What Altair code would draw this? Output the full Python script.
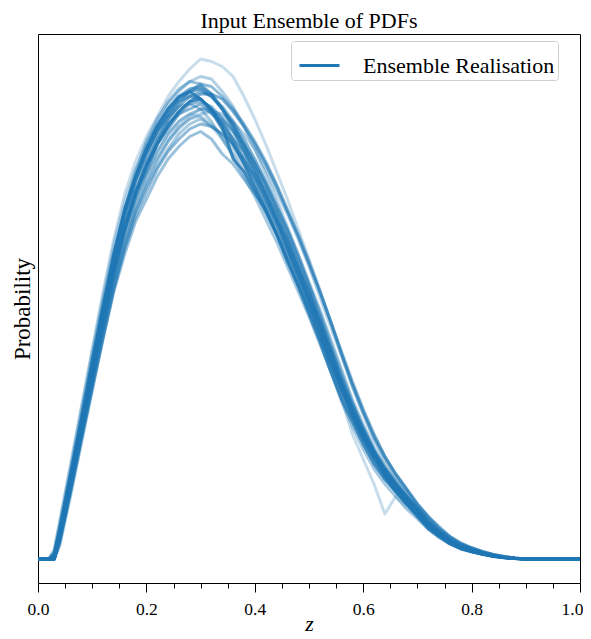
import altair as alt
import pandas as pd

# grid of redshift values shared by all realisations
z = [0.0, 0.02, 0.03, 0.04, 0.06, 0.08, 0.10, 0.12, 0.14, 0.16, 0.18, 0.20,
     0.22, 0.24, 0.26, 0.28, 0.30, 0.32, 0.34, 0.36, 0.38, 0.40, 0.42, 0.44,
     0.46, 0.48, 0.50, 0.52, 0.54, 0.56, 0.58, 0.60, 0.62, 0.64, 0.66, 0.68,
     0.70, 0.72, 0.74, 0.76, 0.78, 0.80, 0.82, 0.84, 0.86, 0.88, 0.90, 1.0]

# ensemble realisations (probability values)
r00 = [0,0,0.03,0.15, 0.38,0.61,0.84,1.07,1.28,1.46, 1.59,1.69,1.77,1.85,1.91,1.96, 2.00,1.99,1.97,1.93,1.85,1.76, 1.66,1.55,1.44,1.32,1.20,1.08, 0.95,0.82,0.69,0.58,0.48,0.39, 0.32,0.26,0.21,0.16,0.12,0.08, 0.06,0.04,0.025,0.015,0.008,0.003, 0,0]
r01 = [0,0,0.02,0.12, 0.34,0.56,0.79,1.01,1.22,1.40, 1.53,1.64,1.73,1.80,1.85,1.87, 1.84,1.79,1.72,1.66,1.58,1.49, 1.40,1.30,1.19,1.09,0.98,0.87, 0.75,0.64,0.55,0.46,0.38,0.32, 0.27,0.22,0.17,0.12,0.09,0.06, 0.04,0.03,0.02,0.01,0.005,0.002, 0,0]
r02 = [0,0,0,0.08, 0.28,0.49,0.70,0.91,1.10,1.26, 1.39,1.49,1.57,1.64,1.70,1.74, 1.76,1.73,1.70,1.65,1.59,1.52, 1.44,1.35,1.26,1.16,1.06,0.96, 0.84,0.72,0.61,0.52,0.43,0.36, 0.30,0.25,0.20,0.15,0.11,0.08, 0.055,0.04,0.025,0.015,0.008,0.003, 0,0]
r03 = [0,0,0,0.07, 0.27,0.48,0.68,0.88,1.07,1.22, 1.35,1.44,1.53,1.60,1.65,1.69, 1.71,1.68,1.62,1.58,1.52,1.46, 1.40,1.31,1.23,1.13,1.04,0.93, 0.81,0.69,0.58,0.49,0.41,0.34, 0.28,0.23,0.18,0.13,0.09,0.065, 0.045,0.03,0.02,0.012,0.006,0.002, 0,0]
r04 = [0,0,0,0.09, 0.30,0.52,0.74,0.95,1.15,1.33, 1.47,1.58,1.68,1.76,1.82,1.87, 1.90,1.89,1.85,1.80,1.74,1.67, 1.59,1.50,1.40,1.30,1.19,1.07, 0.95,0.83,0.71,0.60,0.50,0.41, 0.34,0.28,0.22,0.17,0.12,0.09, 0.06,0.045,0.03,0.018,0.01,0.004, 0,0]
r05 = [0,0,0.03,0.13, 0.35,0.58,0.81,1.03,1.23,1.40, 1.53,1.63,1.71,1.77,1.81,1.82, 1.80,1.75,1.68,1.61,1.53,1.45, 1.36,1.27,1.17,1.07,0.97,0.86, 0.75,0.63,0.53,0.44,0.36,0.30, 0.25,0.20,0.16,0.12,0.085,0.06, 0.04,0.028,0.018,0.01,0.005,0.002, 0,0]
r06 = [0,0,0,0.10, 0.32,0.54,0.76,0.98,1.19,1.37, 1.51,1.62,1.71,1.78,1.84,1.87, 1.88,1.85,1.80,1.74,1.66,1.58, 1.49,1.39,1.29,1.18,1.07,0.95, 0.83,0.71,0.60,0.51,0.43,0.36, 0.30,0.25,0.20,0.15,0.11,0.075, 0.05,0.035,0.022,0.013,0.007,0.003, 0,0]
r07 = [0,0,0,0.05, 0.25,0.46,0.67,0.88,1.08,1.25, 1.39,1.50,1.59,1.67,1.73,1.77, 1.80,1.80,1.77,1.72,1.66,1.59, 1.51,1.42,1.32,1.22,1.11,1.00, 0.88,0.76,0.64,0.54,0.45,0.37, 0.31,0.26,0.21,0.16,0.12,0.085, 0.06,0.04,0.026,0.016,0.008,0.003, 0,0]
r08 = [0,0,0,0.09, 0.30,0.52,0.74,0.96,1.16,1.33, 1.46,1.57,1.66,1.73,1.79,1.83, 1.84,1.80,1.73,1.60,1.55,1.47, 1.39,1.30,1.20,1.10,1.00,0.89, 0.78,0.67,0.57,0.48,0.40,0.33, 0.27,0.22,0.18,0.13,0.095,0.065, 0.045,0.03,0.02,0.012,0.006,0.002, 0,0]
r09 = [0,0,0,0.10, 0.31,0.53,0.76,0.98,1.19,1.38, 1.53,1.65,1.74,1.82,1.87,1.91, 1.93,1.92,1.87,1.81,1.73,1.64, 1.54,1.44,1.33,1.22,1.10,0.98, 0.85,0.73,0.62,0.52,0.43,0.36, 0.30,0.24,0.19,0.14,0.10,0.07, 0.05,0.035,0.022,0.013,0.007,0.003, 0,0]
r10 = [0,0,0,0.09, 0.30,0.51,0.73,0.94,1.14,1.31, 1.44,1.54,1.63,1.70,1.75,1.78, 1.77,1.73,1.68,1.62,1.55,1.47, 1.39,1.30,1.21,1.11,1.01,0.90, 0.78,0.64,0.50,0.40,0.30,0.18, 0.25,0.21,0.17,0.13,0.10,0.07, 0.05,0.035,0.022,0.013,0.007,0.003, 0,0]
r11 = [0,0,0,0.08, 0.29,0.50,0.72,0.93,1.13,1.31, 1.45,1.57,1.66,1.74,1.79,1.83, 1.86,1.86,1.84,1.79,1.73,1.66, 1.58,1.49,1.39,1.29,1.18,1.07, 0.95,0.82,0.70,0.59,0.49,0.41, 0.34,0.28,0.22,0.17,0.13,0.09, 0.065,0.045,0.03,0.018,0.01,0.004, 0,0]
r12 = [0,0,0,0.07, 0.27,0.48,0.69,0.89,1.08,1.24, 1.37,1.47,1.56,1.63,1.68,1.72, 1.74,1.73,1.70,1.66,1.60,1.53, 1.45,1.36,1.26,1.16,1.05,0.94, 0.82,0.70,0.59,0.50,0.42,0.35, 0.29,0.24,0.19,0.14,0.10,0.07, 0.05,0.035,0.022,0.013,0.007,0.003, 0,0]
r13 = [0,0,0.04,0.15, 0.37,0.60,0.83,1.05,1.26,1.43, 1.56,1.66,1.74,1.80,1.84,1.86, 1.84,1.80,1.74,1.67,1.59,1.50, 1.41,1.31,1.21,1.11,1.00,0.89, 0.77,0.66,0.56,0.47,0.39,0.32, 0.27,0.22,0.17,0.13,0.09,0.06, 0.045,0.03,0.02,0.011,0.005,0.002, 0,0]
r14 = [0,0,0,0.09, 0.31,0.52,0.75,0.96,1.16,1.32, 1.47,1.55,1.66,1.72,1.78,1.80, 1.82,1.78,1.75,1.68,1.63,1.54, 1.47,1.36,1.28,1.16,1.07,0.94, 0.84,0.70,0.61,0.50,0.43,0.35, 0.30,0.24,0.20,0.14,0.11,0.07, 0.05,0.035,0.02,0.013,0.006,0.003, 0,0]
r15 = [0,0,0.01,0.11, 0.33,0.55,0.78,1.00,1.21,1.39, 1.53,1.64,1.73,1.80,1.85,1.88, 1.89,1.86,1.80,1.73,1.65,1.56, 1.46,1.36,1.25,1.14,1.03,0.91, 0.79,0.68,0.58,0.49,0.41,0.34, 0.28,0.23,0.18,0.13,0.095,0.065, 0.045,0.03,0.02,0.012,0.006,0.002, 0,0]
r16 = [0,0,0,0.06, 0.26,0.47,0.68,0.89,1.09,1.26, 1.40,1.51,1.60,1.67,1.72,1.76, 1.78,1.79,1.78,1.75,1.70,1.64, 1.56,1.47,1.38,1.28,1.17,1.05, 0.93,0.81,0.69,0.58,0.48,0.40, 0.33,0.27,0.21,0.16,0.12,0.085, 0.06,0.042,0.028,0.017,0.009,0.004, 0,0]
r17 = [0,0,0.02,0.12, 0.34,0.56,0.79,1.01,1.22,1.40, 1.55,1.67,1.76,1.83,1.88,1.91, 1.90,1.86,1.80,1.72,1.63,1.54, 1.44,1.34,1.24,1.13,1.02,0.91, 0.80,0.68,0.58,0.49,0.41,0.34, 0.28,0.23,0.18,0.14,0.10,0.07, 0.05,0.034,0.022,0.013,0.007,0.003, 0,0]
r18 = [0,0,0,0.08, 0.29,0.50,0.72,0.93,1.12,1.29, 1.42,1.53,1.61,1.68,1.73,1.76, 1.77,1.74,1.69,1.63,1.57,1.49, 1.41,1.32,1.23,1.13,1.03,0.92, 0.80,0.69,0.59,0.50,0.42,0.35, 0.29,0.24,0.19,0.14,0.10,0.07, 0.05,0.035,0.022,0.013,0.007,0.003, 0,0]
r19 = [0,0,0,0.09, 0.31,0.52,0.74,0.97,1.17,1.34, 1.47,1.58,1.66,1.74,1.78,1.82, 1.83,1.81,1.76,1.71,1.63,1.56, 1.46,1.38,1.27,1.17,1.04,0.95, 0.81,0.71,0.58,0.50,0.41,0.35, 0.29,0.24,0.19,0.14,0.10,0.07, 0.05,0.035,0.022,0.013,0.007,0.003, 0,0]
r20 = [0,0,0.02,0.11, 0.33,0.55,0.77,0.99,1.20,1.38, 1.51,1.62,1.71,1.78,1.83,1.85, 1.84,1.80,1.74,1.68,1.60,1.52, 1.43,1.34,1.24,1.14,1.03,0.92, 0.80,0.69,0.58,0.49,0.41,0.34, 0.28,0.23,0.18,0.13,0.095,0.065, 0.045,0.03,0.02,0.012,0.006,0.002, 0,0]
r21 = [0,0,0,0.08, 0.29,0.50,0.71,0.92,1.12,1.29, 1.43,1.54,1.63,1.70,1.75,1.78, 1.80,1.79,1.76,1.71,1.65,1.58, 1.50,1.41,1.32,1.21,1.10,0.99, 0.87,0.75,0.63,0.53,0.44,0.37, 0.31,0.25,0.20,0.15,0.11,0.08, 0.055,0.04,0.025,0.015,0.008,0.003, 0,0]
r22 = [0,0,0,0.07, 0.28,0.50,0.72,0.94,1.14,1.32, 1.47,1.59,1.68,1.76,1.81,1.85, 1.87,1.85,1.81,1.75,1.68,1.60, 1.51,1.41,1.31,1.20,1.09,0.97, 0.85,0.73,0.62,0.52,0.43,0.36, 0.30,0.25,0.20,0.15,0.11,0.075, 0.05,0.035,0.022,0.013,0.007,0.003, 0,0]

realisations = [r00, r01, r02, r03, r04, r05, r06, r07, r08, r09, r10, r11,
                r12, r13, r14, r15, r16, r17, r18, r19, r20, r21, r22]
alphas = [0.25, 0.8, 0.4, 0.45, 0.5, 0.4, 0.7, 0.3, 0.8, 0.35, 0.25, 0.6,
          0.5, 0.3, 0.55, 0.65, 0.35, 0.45, 0.25, 0.5, 0.6, 0.4, 0.55]

x_ticks = [0.0, 0.05, 0.1, 0.15, 0.2, 0.25, 0.3, 0.35, 0.4, 0.45, 0.5,
           0.55, 0.6, 0.65, 0.7, 0.75, 0.8, 0.85, 0.9, 0.95, 1.0]

legend_label = "Ensemble Realisation"

rows = []
for i, vals in enumerate(realisations):
    assert len(vals) == len(z), (i, len(vals))
    for zz, v in zip(z, vals):
        rows.append({"z": zz, "p": v, "curve": i, "alpha": alphas[i],
                     "label": legend_label})
df = pd.DataFrame(rows)

SERIF = "Liberation Serif"
major_test = "abs(datum.value*5 - round(datum.value*5)) < 0.001"

chart = alt.Chart(df).mark_line(strokeWidth=3, clip=True, strokeJoin="round").encode(
    x=alt.X("z:Q",
            scale=alt.Scale(domain=[0, 1], nice=False, zero=False),
            axis=alt.Axis(values=x_ticks, title="z", grid=False, domain=False,
                          labelExpr=f"{major_test} ? format(datum.value, '.1f') : ''",
                          tickSize={"condition": {"test": major_test, "value": 9}, "value": 5},
                          labelOffset={"condition": {"test": "datum.value > 0.99", "value": -8}, "value": 0},
                          tickColor="black", tickWidth=1,
                          labelFlush=False, labelOverlap=False,
                          labelFont=SERIF, labelFontSize=17.5, labelColor="black",
                          labelPadding=8,
                          titleFont=SERIF, titleFontSize=22, titleFontStyle="italic",
                          titleFontWeight="normal", titleColor="black", titlePadding=-4)),
    y=alt.Y("p:Q",
            scale=alt.Scale(domain=[-0.096, 2.1], nice=False, zero=False),
            axis=alt.Axis(title="Probability", ticks=False, labels=False, domain=False,
                          grid=False, titleFont=SERIF, titleFontSize=23,
                          titleFontWeight="normal", titleColor="black", titlePadding=4)),
    detail="curve:N",
    order="z:Q",
    color=alt.Color("label:N", scale=alt.Scale(range=["#1f77b4"]),
                    legend=alt.Legend(title=None, orient="none", legendX=253, legendY=7,
                                      symbolType="stroke", symbolStrokeWidth=3,
                                      symbolSize=1600, symbolOpacity=1, symbolOffset=4,
                                      labelFont=SERIF, labelFontSize=22, labelColor="black",
                                      labelOffset=22, labelLimit=0, padding=3,
                                      labelExpr="datum.label + '\u00a0\u00a0'",
                                      strokeColor="#d0d0d0", fillColor="white",
                                      cornerRadius=3)),
    opacity=alt.Opacity("alpha:Q", scale=None, legend=None),
).properties(
    width=542, height=549,
    title=alt.Title("Input Ensemble of PDFs", font=SERIF, fontSize=22,
                    fontWeight="normal", color="black", offset=1, anchor="middle"),
    autosize=alt.AutoSizeParams(type="none"),
    padding={"left": 30, "top": 26, "right": 3, "bottom": 56},
).configure_view(stroke="black", strokeWidth=1)

chart.save("out.html", embed_options={"renderer": "svg", "actions": False})
